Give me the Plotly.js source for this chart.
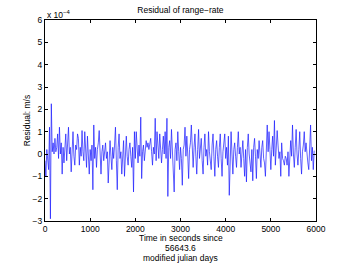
<!DOCTYPE html>
<html><head><meta charset="utf-8">
<script src="https://cdn.plot.ly/plotly-3.0.1.min.js"></script>
<style>body{margin:0;background:#fff}#plot{width:349px;height:263px}</style>
</head><body><div id="plot"></div>
<script>
// Sample times start/step (seconds since 56643.6 MJD)
const timeStart = 0;
const timeStep = 20;
// Residual of range-rate, in units of 1e-4 m/s
const residual_e4 = [
 -0.3,-1.0,0.2,-0.5,-0.7,1.2,-2.9,2.25,0.1,0.5,
 0.0,0.7,0.1,0.3,0.9,-0.2,1.2,0.0,0.5,-0.9,
 0.3,-0.4,0.6,0.9,-0.3,0.4,1.2,0.0,0.3,-0.8,
 0.2,1.0,-0.1,-0.5,0.4,0.2,0.9,0.7,-0.5,0.3,
 -0.1,1.05,0.1,-0.3,1.0,0.2,-0.6,0.8,0.0,-0.9,
 0.2,-0.3,0.4,-1.6,1.3,-0.2,0.3,-0.6,0.2,0.5,
 1.05,-0.1,-0.9,0.1,0.4,-0.3,0.2,0.5,-0.2,0.1,
 -1.3,0.2,0.6,-0.1,-0.7,0.3,-0.2,0.4,1.2,-0.3,
 -1.6,0.3,0.9,-0.2,0.1,-0.9,0.2,0.6,-1.0,0.1,
 0.8,-0.1,-0.5,0.2,0.5,-0.1,-0.6,0.3,-1.7,1.0,
 -0.2,1.0,0.0,-0.4,0.4,-0.1,1.65,-1.1,0.1,0.4,
 -0.3,0.4,0.6,0.3,0.5,0.2,0.4,0.7,0.1,-0.5,
 0.3,0.0,1.6,-0.3,1.0,0.2,-0.2,0.9,0.3,-0.4,
 0.2,0.8,0.0,1.0,-0.2,1.6,-1.9,0.3,0.6,-0.2,
 1.1,0.1,-0.4,-1.7,0.2,0.5,-0.3,1.0,0.1,-0.7,
 0.3,-0.2,-1.4,0.2,0.4,1.2,-0.1,0.8,0.0,-1.1,
 0.2,0.5,1.3,-0.2,-0.6,0.3,0.9,-0.1,-0.9,0.2,
 1.1,-0.2,0.3,0.7,-0.3,-0.9,0.3,0.9,-0.1,0.2,
 -0.5,1.0,0.1,-0.3,-0.7,0.4,0.9,-0.1,-1.0,0.2,
 0.6,-0.1,-0.6,0.3,0.9,-0.2,-1.0,0.1,0.5,0.9,
 -0.2,0.3,-0.5,0.8,-1.85,0.4,1.0,0.0,-0.9,0.2,
 0.5,-0.1,-0.6,0.3,1.0,0.0,0.3,-0.6,0.1,0.6,
 -0.2,-1.0,0.2,-1.25,0.3,0.9,0.0,-0.3,-0.8,0.2,
 -1.2,0.3,0.7,-0.1,-1.1,0.2,-0.2,0.6,0.0,-0.6,
 0.3,0.6,-0.2,-0.4,-1.0,0.3,1.3,0.1,1.0,0.2,
 -0.7,0.2,0.8,-0.1,1.5,-0.5,0.4,1.05,0.4,-0.2,
 0.1,-1.0,0.5,-0.2,-0.3,-0.5,-0.1,-0.2,-0.5,0.1,
 -1.0,0.2,0.6,-0.1,1.3,0.0,-0.6,0.3,1.1,0.0,
 -0.5,0.2,1.0,-0.2,-0.9,0.1,0.4,1.0,0.1,0.5,
 -0.1,-0.4,-0.7,0.3,1.3,-0.3,0.3,-0.7,0.15
];
const xTicks = [0,1000,2000,3000,4000,5000,6000];
const yTicks = [-3,-2,-1,0,1,2,3,4,5,6];
const xTitleLines = ['Time in seconds since', '56643.6', 'modified julian days'];

const t = residual_e4.map((_, i) => timeStart + i * timeStep);
const font = {family: 'Liberation Sans, Arial, sans-serif', size: 8.5, color: '#000'};

const axisCommon = {
  showline: true, linecolor: '#000', linewidth: 1, mirror: 'ticks',
  ticks: 'inside', ticklen: 3, tickcolor: '#000', tickwidth: 1,
  showgrid: false, zeroline: false, tickfont: font
};

const plotH = 263 - 20 - 42;
const xTitleAnn = xTitleLines.map((s, i) => ({
  text: s, xref: 'paper', yref: 'paper', x: 0.5, y: -(17 + 10 * i) / plotH,
  xanchor: 'center', yanchor: 'middle', showarrow: false, font: font
}));

Plotly.newPlot('plot', [{
  x: t, y: residual_e4, type: 'scatter', mode: 'lines',
  line: {color: '#1a1aff', width: 0.7}, hoverinfo: 'none'
}], {
  width: 349, height: 263,
  margin: {l: 45, r: 33, t: 20, b: 42},
  paper_bgcolor: '#fff', plot_bgcolor: '#fff',
  showlegend: false,
  title: {text: 'Residual of range\u2212rate', font: font, x: 0.517, xanchor: 'center', y: 0.962, yanchor: 'middle'},
  xaxis: Object.assign({}, axisCommon, {
    range: [0, 6000], tickvals: xTicks, ticktext: xTicks.map(String)
  }),
  yaxis: Object.assign({}, axisCommon, {
    range: [-3, 6], tickvals: yTicks, ticktext: yTicks.map(v => v < 0 ? '\u2212' + Math.abs(v) : String(v)),
    title: {text: 'Residual: m/s', font: font, standoff: 0}
  }),
  annotations: [{
    text: 'x 10<sup>\u22124</sup>', xref: 'paper', yref: 'paper', x: 0, y: 1,
    xanchor: 'left', yanchor: 'bottom', showarrow: false, font: font, yshift: -2
  }].concat(xTitleAnn)
}, {staticPlot: true, displayModeBar: false});
</script></body></html>
